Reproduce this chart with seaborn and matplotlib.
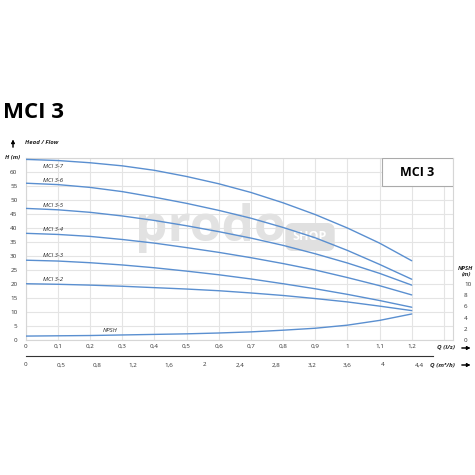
import numpy as np
import pandas as pd
import matplotlib.pyplot as plt
import matplotlib.patches as patches
import seaborn as sns

# caudal Q (l/s)
q = [0, 0.1, 0.2, 0.3, 0.4, 0.5, 0.6, 0.7, 0.8, 0.9, 1.0, 1.1, 1.2]

# altura H (m) por modelo
h_37 = [64.5, 64.1, 63.3, 62.2, 60.6, 58.4, 55.8, 52.7, 49.0, 44.8, 40.0, 34.6, 28.3]
h_36 = [56.0, 55.5, 54.5, 53.0, 51.0, 48.8, 46.3, 43.5, 40.2, 36.5, 32.0, 27.0, 21.7]
h_35 = [47.0, 46.5, 45.6, 44.3, 42.7, 40.8, 38.7, 36.4, 33.8, 30.8, 27.5, 23.8, 19.6]
h_34 = [38.1, 37.7, 37.0, 35.9, 34.6, 33.0, 31.3, 29.4, 27.3, 25.0, 22.3, 19.4, 16.1]
h_33 = [28.5, 28.2, 27.6, 26.8, 25.8, 24.6, 23.3, 21.8, 20.1, 18.3, 16.3, 14.1, 11.7]
h_32 = [20.1, 19.9, 19.6, 19.2, 18.7, 18.2, 17.6, 16.8, 15.9, 14.8, 13.6, 12.1, 10.5]

# NPSH (m), eje derecho
npsh = [0.7, 0.75, 0.8, 0.9, 1.0, 1.1, 1.25, 1.45, 1.75, 2.1, 2.65, 3.5, 4.65]

modelos = ["MCI 3-7", "MCI 3-6", "MCI 3-5", "MCI 3-4", "MCI 3-3", "MCI 3-2"]
alturas = [h_37, h_36, h_35, h_34, h_33, h_32]
pos_etiqueta = [61.9, 57.1, 48.2, 39.5, 30.1, 21.7]

q_ticks = [0, 0.1, 0.2, 0.3, 0.4, 0.5, 0.6, 0.7, 0.8, 0.9, 1.0, 1.1, 1.2]
q_labels = ["0", "0,1", "0,2", "0,3", "0,4", "0,5", "0,6", "0,7", "0,8", "0,9", "1", "1,1", "1,2"]
m3_ticks = [0, 0.4, 0.8, 1.2, 1.6, 2.0, 2.4, 2.8, 3.2, 3.6, 4.0, 4.4]
m3_labels = ["0", "0,5", "0,8", "1,2", "1,6", "2", "2,4", "2,8", "3,2", "3,6", "4", "4,4"]
h_ticks = [0, 5, 10, 15, 20, 25, 30, 35, 40, 45, 50, 55, 60]
npsh_ticks = [0, 2, 4, 6, 8, 10]

azul = "#5a8fd0"

df = pd.DataFrame({
    "Q": q * len(modelos),
    "H": sum(alturas, []),
    "modelo": sum([[m] * len(q) for m in modelos], []),
})
df_npsh = pd.DataFrame({"Q": q, "NPSH": npsh})

sns.set_style("white")
plt.rcParams['font.family'] = ['Open Sans', 'DejaVu Sans']

W = 475.0
fig = plt.figure(figsize=(4.75, 4.75), dpi=100)
x0, x1, y0, y1 = 25.7, 453, 340, 158
ax = fig.add_axes([x0 / W, 1 - y0 / W, (x1 - x0) / W, (y0 - y1) / W])

sns.lineplot(data=df, x="Q", y="H", hue="modelo", palette=[azul] * len(modelos),
             legend=False, lw=1.0, ax=ax, zorder=4)

ax.set_xlim(0, (x1 - x0) / 321.7)
ax.set_ylim(0, 65)
ax.set_xticks(np.arange(0, 1.31, 0.1), minor=True)
ax.set_yticks(np.arange(0, 66, 5), minor=True)
ax.set_xticks(q_ticks)
ax.set_xticklabels(q_labels)
ax.set_yticks(h_ticks)
ax.grid(True, which="both", color="#e4e4e4", lw=0.8)
ax.tick_params(which="both", length=0, labelsize=4.5, colors="#333333")
ax.tick_params(axis="y", pad=6)
ax.tick_params(axis="x", pad=3)
ax.set_xlabel("")
ax.set_ylabel("")
for s in ax.spines.values():
    s.set_color("#d6d6d6")
    s.set_linewidth(0.8)

# NPSH en eje derecho
axr = ax.twinx()
sns.lineplot(data=df_npsh, x="Q", y="NPSH", color=azul, lw=1.0, ax=axr, zorder=4)
axr.set_ylim(0, 32.5)
axr.set_yticks(npsh_ticks)
axr.tick_params(length=0, labelsize=4.5, colors="#333333", pad=8)
axr.set_ylabel("")
axr.grid(False)
for s in axr.spines.values():
    s.set_visible(False)

# etiquetas de curvas
for m, yy in zip(modelos, pos_etiqueta):
    ax.text(0.055, yy, m, fontsize=4.3, style="italic", color="#222222", va="center", zorder=5)
ax.text(0.24, 3.3, "NPSH", fontsize=4.3, style="italic", color="#222222", va="center", zorder=5)

# marca de agua (encima de la rejilla, debajo de las curvas)
ax.text(135 / W, 1 - 228 / W, "prodo", fontsize=37, fontweight="bold", color="#e2e2e2",
        va="center", ha="left", zorder=1, transform=fig.transFigure)
ax.text(310 / W, 1 - 237 / W, "SHOP", fontsize=9, fontweight="bold", color="white",
        va="center", ha="center", zorder=1, transform=fig.transFigure,
        bbox=dict(boxstyle="round,pad=0.6", fc="#e0e0e0", ec="none"))

# recuadro del modelo
ax.add_patch(patches.Rectangle(((382 - x0) / (x1 - x0), (y0 - 186) / (y0 - y1)),
                               (x1 - 382) / (x1 - x0), (186 - y1) / (y0 - y1),
                               transform=ax.transAxes, fc="white", ec="#aaaaaa", lw=0.8, zorder=6))
ax.text((417.5 - x0) / (x1 - x0), (y0 - 172) / (y0 - y1), "MCI 3", transform=ax.transAxes,
        fontsize=9, fontweight="bold", ha="center", va="center", zorder=7, color="black")

# segundo eje Q (m3/h)
ax2 = fig.add_axes([x0 / W, 1 - 356 / W, (433 - x0) / W, 0.0001])
ax2.set_xlim(0, (433 - x0) / 89.36)
ax2.set_xticks(m3_ticks)
ax2.set_xticklabels(m3_labels)
ax2.set_yticks([])
ax2.tick_params(axis="x", direction="out", length=2.5, width=0.6, labelsize=4.5,
                colors="#333333", pad=2)
for k in ["top", "left", "right"]:
    ax2.spines[k].set_visible(False)
ax2.spines["bottom"].set_color("#333333")
ax2.spines["bottom"].set_linewidth(0.8)
ax2.patch.set_alpha(0)

# textos
fig.text(3 / W, 1 - 113 / W, "MCI 3", fontsize=16, fontweight="bold", va="center", ha="left",
         color="black")
fig.text(25 / W, 1 - 142 / W, "Head / Flow", fontsize=4.3, fontweight="bold", style="italic",
         va="center", ha="left")
fig.text(13 / W, 1 - 157 / W, "H (m)", fontsize=4.3, fontweight="bold", style="italic",
         va="center", ha="center")
fig.text(466 / W, 1 - 271 / W, "NPSH\n(m)", fontsize=4.3, fontweight="bold", style="italic",
         va="center", ha="center", linespacing=1.1)
fig.text(455 / W, 1 - 348 / W, "Q (l/s)", fontsize=4.5, fontweight="bold", style="italic",
         va="center", ha="right")
fig.text(455 / W, 1 - 365 / W, "Q (m³/h)", fontsize=4.5, fontweight="bold", style="italic",
         va="center", ha="right")

flecha = dict(arrowstyle="-|>", color="black", lw=0.7, mutation_scale=5)
for yy in [348, 365]:
    fig.add_artist(plt.annotate("", xy=(473 / W, 1 - yy / W), xytext=(459 / W, 1 - yy / W),
                                xycoords="figure fraction", arrowprops=flecha))
fig.add_artist(plt.annotate("", xy=(13 / W, 1 - 137 / W), xytext=(13 / W, 1 - 150 / W),
                            xycoords="figure fraction", arrowprops=flecha))

fig.savefig("out.png", dpi=100)
